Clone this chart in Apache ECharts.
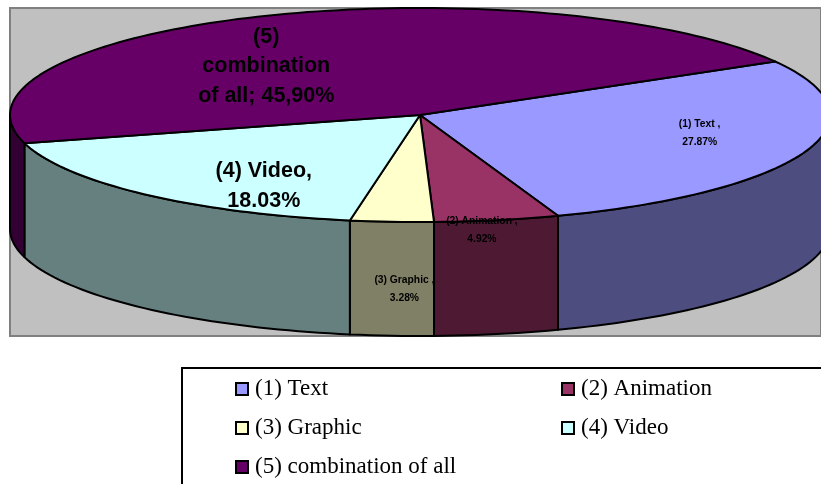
<!DOCTYPE html>
<html>
<head>
<meta charset="utf-8">
<style>
  html, body { margin: 0; padding: 0; background: #fff; }
  #chart { width: 821px; height: 484px; }
</style>
<script src="https://cdn.jsdelivr.net/npm/echarts@6/dist/echarts.min.js"></script>
</head>
<body>
<div id="chart"></div>
<script>
const categories = ['(1) Text', '(2) Animation', '(3) Graphic', '(4) Video', '(5) combination of all'];
const shares = [27.87, 4.92, 3.28, 18.03, 45.90];
const topColors = ['#9999FF', '#993366', '#FFFFCC', '#CCFFFF', '#660066'];
const sideColors = ['#4D4D80', '#4D1933', '#808066', '#668080', '#330033'];
const sliceLabels = ['(1) Text ,\n27.87%', '(2) Animation ,\n4.92%', '(3) Graphic ,\n3.28%', '(4) Video,\n18.03%', '(5)\ncombination\nof all; 45,90%'];
// label centres in axis units, the unit circle is the pie top
const labelSpots = [[0.682, -0.169], [0.151, -1.08], [-0.038, -1.627], [-0.381, -0.664], [-0.375, 0.453]];
const labelFonts = [10.3, 10.3, 10.3, 21.5, 21.5];
const labelLines = [18, 18, 18, 30, 29.5];

const START_ANGLE = 60; // degrees clockwise from 12 o'clock
const DEPTH = 1.065;    // wall height in y axis units

function rimPoint(deg, drop) {
  const r = deg * Math.PI / 180;
  return [Math.sin(r), Math.cos(r) - (drop || 0)];
}

function arcPoints(from, to, drop) {
  const pts = [];
  const steps = Math.max(2, Math.ceil(Math.abs(to - from) / 1.5));
  for (let i = 0; i <= steps; i++) pts.push(rimPoint(from + (to - from) * i / steps, drop));
  return pts;
}

function sliceRange(idx) {
  let a = START_ANGLE;
  for (let i = 0; i < idx; i++) a += shares[i] * 3.6;
  return [a, a + shares[idx] * 3.6];
}

// part of the slice rim that faces the viewer (90..270 degrees, modulo a turn)
function frontRange(from, to) {
  for (const shift of [0, 360, -360]) {
    const lo = Math.max(from, 90 + shift);
    const hi = Math.min(to, 270 + shift);
    if (hi > lo) return [lo, hi];
  }
  return null;
}

function renderSlice(idx) {
  return function (params, api) {
    const toPx = (p) => api.coord(p);
    const lineStyle = { stroke: '#000', lineWidth: 2, lineJoin: 'round' };
    const [from, to] = sliceRange(idx);
    const children = [];
    const front = frontRange(from, to);
    if (front) {
      const upper = arcPoints(front[0], front[1], 0);
      const lower = arcPoints(front[1], front[0], DEPTH);
      children.push({
        type: 'polygon',
        shape: { points: upper.concat(lower).map(toPx) },
        style: Object.assign({ fill: sideColors[idx] }, lineStyle)
      });
    }
    children.push({
      type: 'polygon',
      shape: { points: [[0, 0]].concat(arcPoints(from, to, 0)).map(toPx) },
      style: Object.assign({ fill: topColors[idx] }, lineStyle)
    });
    return { type: 'group', children };
  };
}

function renderLabel(params, api) {
  const i = params.dataIndex;
  const at = api.coord(labelSpots[i]);
  return {
    type: 'text',
    style: {
      text: sliceLabels[i],
      x: at[0],
      y: at[1],
      fill: '#000',
      font: 'bold ' + labelFonts[i] + 'px "Liberation Sans", Arial, sans-serif',
      lineHeight: labelLines[i],
      align: 'center',
      verticalAlign: 'middle'
    }
  };
}

const legendBase = {
  orient: 'vertical',
  icon: 'rect',
  itemWidth: 12,
  itemHeight: 12,
  itemGap: 13,
  padding: 0,
  selectedMode: false,
  textStyle: { fontFamily: '"Liberation Serif", serif', fontSize: 23, lineHeight: 26, color: '#000', padding: [2, 0, 0, 2] },
  itemStyle: { borderColor: '#000', borderWidth: 2 }
};

const chart = echarts.init(document.getElementById('chart'), null, { renderer: 'canvas' });
chart.setOption({
  animation: false,
  backgroundColor: '#fff',
  grid: {
    show: true,
    left: 10, top: 8, width: 813, height: 328,
    backgroundColor: '#C0C0C0',
    borderColor: '#808080',
    borderWidth: 2
  },
  xAxis: { type: 'value', min: -1, max: 0.978, show: false },
  yAxis: { type: 'value', min: -2.065, max: 1, show: false },
  legend: [
    Object.assign({}, legendBase, { left: 235, top: 375, itemGap: 11, data: [categories[0], categories[2], categories[4]] }),
    Object.assign({}, legendBase, { left: 561, top: 375, itemGap: 11, data: [categories[1], categories[3]] })
  ],
  graphic: [{
    type: 'rect',
    shape: { x: 182, y: 368, width: 660, height: 140 },
    style: { fill: 'none', stroke: '#000', lineWidth: 2 },
    silent: true
  }],
  series: categories.map((name, i) => ({
    type: 'custom',
    name,
    coordinateSystem: 'cartesian2d',
    itemStyle: { color: topColors[i] },
    renderItem: renderSlice(i),
    data: [[0, 0, shares[i]]],
    encode: { x: 0, y: 1 },
    silent: true
  })).concat([{
    type: 'custom',
    name: 'labels',
    coordinateSystem: 'cartesian2d',
    renderItem: renderLabel,
    data: labelSpots,
    z: 10,
    silent: true
  }])
});
</script>
</body>
</html>
